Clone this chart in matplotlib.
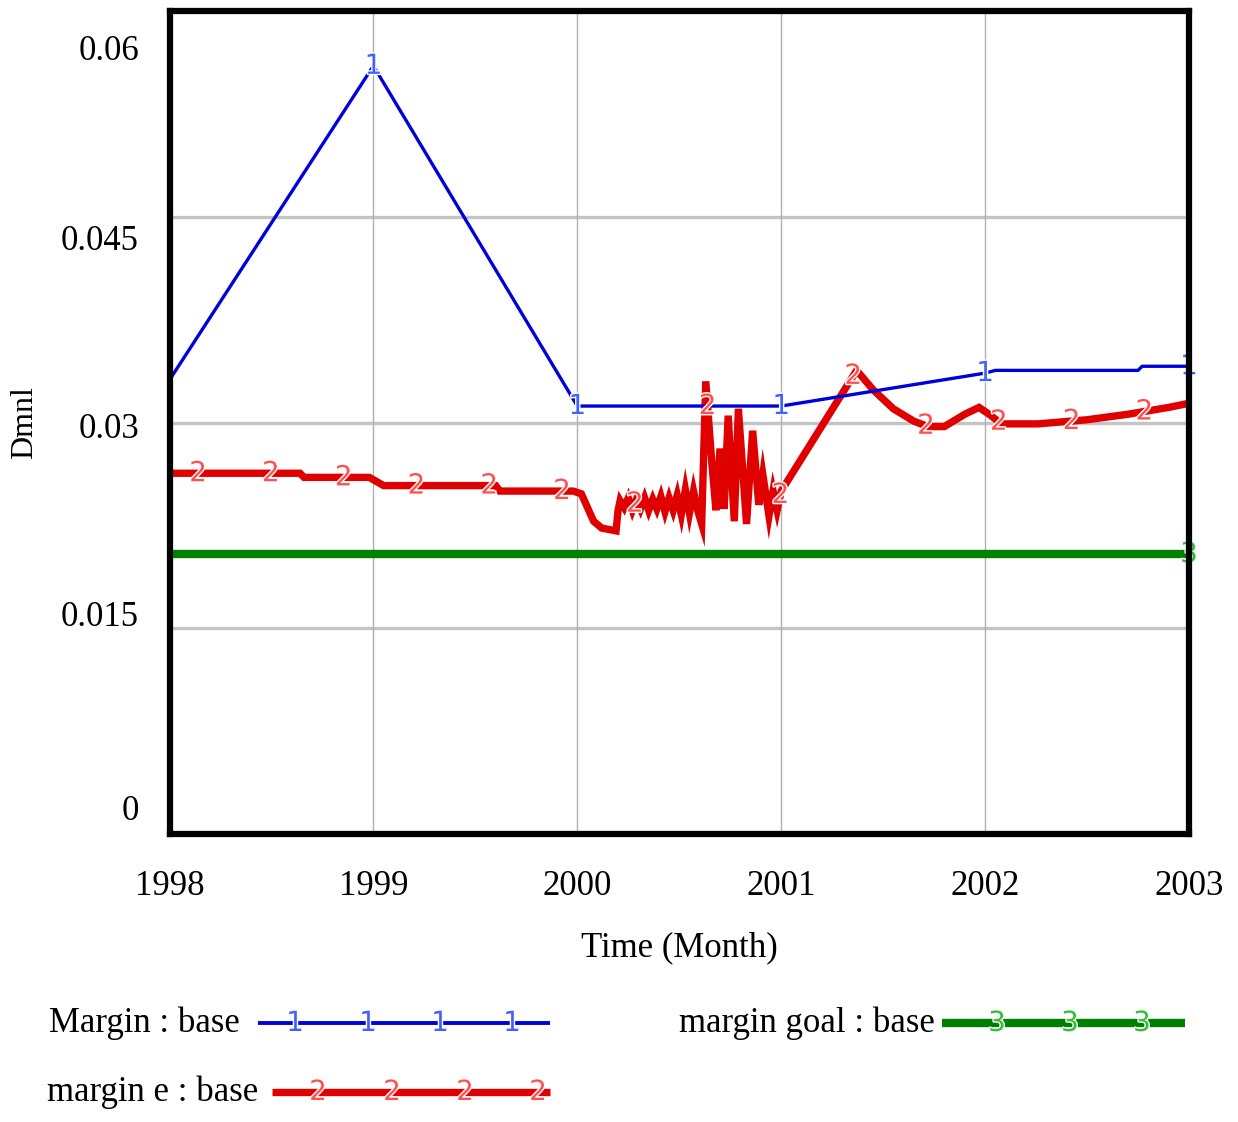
import numpy as np
import matplotlib.pyplot as plt
import matplotlib.patheffects as pe
from matplotlib.lines import Line2D
from matplotlib.transforms import ScaledTranslation

plt.rcParams['font.family'] = ['Liberation Serif', 'DejaVu Serif']

# simulation output, one run ("base")
margin_t = [1998.0, 1999.0, 2000.0, 2001.0, 2002.0, 2002.05, 2002.75, 2002.77, 2003.0]
margin_v = [0.0331, 0.0560, 0.0312, 0.0312, 0.0336, 0.0338, 0.0338, 0.0341, 0.0341]

margin_e_t = [1998.00, 1998.64, 1998.66, 1998.98, 1999.05, 1999.60, 1999.62, 1999.98,
              2000.02, 2000.08, 2000.12, 2000.19, 2000.20,
              2000.21, 2000.23, 2000.25, 2000.27, 2000.29, 2000.31, 2000.33, 2000.35,
              2000.37, 2000.39, 2000.41, 2000.43, 2000.45, 2000.47, 2000.49, 2000.51,
              2000.53, 2000.55, 2000.57, 2000.59, 2000.61, 2000.63, 2000.66, 2000.68,
              2000.70, 2000.72, 2000.74, 2000.77, 2000.79, 2000.83, 2000.86, 2000.89,
              2000.91, 2000.94, 2000.96, 2000.98, 2001.00, 2001.37, 2001.45, 2001.55,
              2001.65, 2001.72, 2001.80, 2001.90, 2001.97, 2002.02, 2002.08, 2002.26,
              2002.50, 2002.70, 2002.90, 2003.00]
margin_e_v = [0.0263, 0.0263, 0.0260, 0.0260, 0.0254, 0.0254, 0.0250, 0.0250,
              0.0248, 0.0228, 0.0223, 0.0221, 0.0236,
              0.0243, 0.0238, 0.0245, 0.0236, 0.0244, 0.0237, 0.0245, 0.0236,
              0.0244, 0.0237, 0.0246, 0.0235, 0.0245, 0.0236, 0.0247, 0.0233,
              0.0251, 0.0234, 0.0250, 0.0236, 0.0226, 0.0330, 0.0270, 0.0236,
              0.0281, 0.0237, 0.0305, 0.0228, 0.0310, 0.0226, 0.0294, 0.0240,
              0.0262, 0.0232, 0.0250, 0.0236, 0.0250, 0.0338, 0.0324, 0.0310,
              0.0301, 0.0297, 0.0297, 0.0306, 0.0311, 0.0306, 0.0299, 0.0299,
              0.0302, 0.0306, 0.0311, 0.0314]

goal_t = [1998.0, 2003.0]
goal_v = [0.0204, 0.0204]

years = [1998, 1999, 2000, 2001, 2002, 2003]
y_ticks = [0, 0.015, 0.03, 0.045, 0.06]
y_labels = ['0', '0.015', '0.03', '0.045', '0.06']

BLUE = '#0000dd'
RED = '#e00000'
GREEN = '#008000'

fig = plt.figure(figsize=(12.38, 11.22), dpi=100)
ax = fig.add_axes([169.5 / 1238, 1 - 834 / 1122, (1189 - 169.5) / 1238, (834 - 11) / 1122])

ax.set_xlim(1998, 2003)
ax.set_ylim(0, 0.06)

# grid: heavy grey horizontals inside, thin verticals at each year
for yv in y_ticks[1:-1]:
    ax.axhline(yv, color='#c4c4c4', lw=2.4, zorder=1)
for xv in years[1:-1]:
    ax.axvline(xv, color='#b0b0b0', lw=1.0, zorder=1)

ax.plot(goal_t, goal_v, color=GREEN, lw=6.0, solid_capstyle='butt', zorder=3)
ax.plot(margin_e_t, margin_e_v, color=RED, lw=5.3, solid_joinstyle='miter', zorder=4)
ax.plot(margin_t, margin_v, color=BLUE, lw=2.4, zorder=5)


def number_marks(axis, t_pts, t, v, text, color):
    halo = [pe.withStroke(linewidth=2.0, foreground='white')]
    for tp in t_pts:
        axis.text(tp, np.interp(tp, t, v), text, color=color, fontsize=20,
                  family='DejaVu Sans', ha='center', va='center',
                  path_effects=halo, zorder=6, clip_on=False)


number_marks(ax, [1999, 2000, 2001, 2002, 2003], margin_t, margin_v, '1', '#4060ff')
number_marks(ax, np.arange(1998.14, 2003.0, 0.357), margin_e_t, margin_e_v, '2', '#ff5050')
number_marks(ax, [2003], goal_t, goal_v, '3', '#30c030')

for sp in ax.spines.values():
    sp.set_linewidth(4.5)
    sp.set_color('black')
    sp.set_zorder(7)

ax.set_xticks(years)
ax.set_xticklabels([str(y) for y in years], fontsize=25)
ax.set_yticks(y_ticks)
ax.set_yticklabels(y_labels, fontsize=25)
ax.tick_params(axis='x', length=0, pad=26)
ax.tick_params(axis='y', length=0, pad=22)

# Vensim-style spacing of the value labels
y_shift_px = [27, 15, -3, -21, -36]
for lab, dy in zip(ax.get_yticklabels(), y_shift_px):
    lab.set_transform(lab.get_transform() + ScaledTranslation(0, dy / 100, fig.dpi_scale_trans))

ax.set_xlabel('Time (Month)', fontsize=25, labelpad=20)
ax.set_ylabel('Dmnl', fontsize=23, labelpad=16)

# legend strip under the chart
lg = fig.add_axes([0, 0, 1, 130 / 1122])
lg.set_xlim(0, 1238)
lg.set_ylim(1122, 992)
lg.axis('off')

entries = [
    ('Margin : base', 240, 1023, 258, 550, BLUE, 2.8, '1', '#4060ff', [295, 368, 440, 512]),
    ('margin e : base', 258, 1092, 272, 550, RED, 5.3, '2', '#ff5050', [318, 392, 465, 538]),
    ('margin goal : base', 935, 1023, 942, 1185, GREEN, 6.0, '3', '#30c030', [997, 1070, 1142]),
]
for label, tx, ty, x0, x1, col, lw, num, ncol, nx in entries:
    lg.text(tx, ty, label, fontsize=25, ha='right', va='center')
    lg.add_line(Line2D([x0, x1], [ty, ty], color=col, lw=lw, solid_capstyle='butt'))
    for xm in nx:
        lg.text(xm, ty, num, color=ncol, fontsize=20, family='DejaVu Sans',
                ha='center', va='center',
                path_effects=[pe.withStroke(linewidth=2.0, foreground='white')])

fig.savefig('out.png', dpi=100)
